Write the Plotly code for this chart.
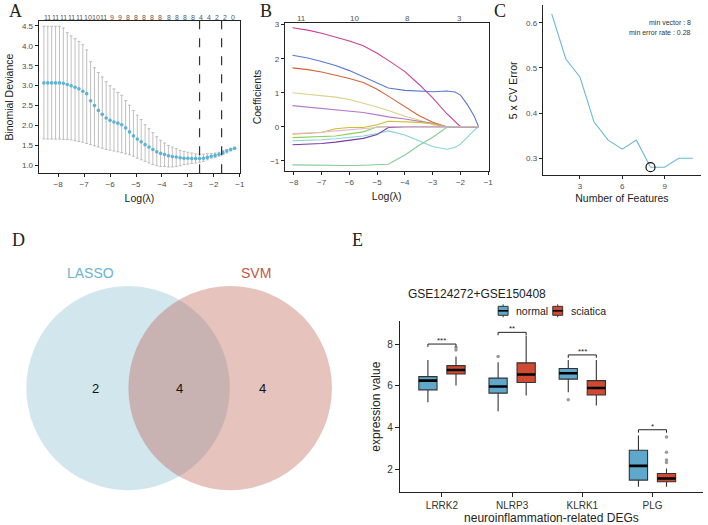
import numpy as np
import plotly.graph_objects as go

W, H = 708, 525

# ---------------- Panel A: LASSO CV curve ----------------
a_loglambda = [-8.55, -8.4, -8.25, -8.1, -7.95, -7.8, -7.65, -7.5, -7.35, -7.2, -7.05,
               -6.9, -6.75, -6.6, -6.45, -6.3, -6.15, -6.0, -5.85, -5.7, -5.55, -5.4,
               -5.25, -5.1, -4.95, -4.8, -4.65, -4.5, -4.35, -4.2, -4.05, -3.9, -3.75,
               -3.6, -3.45, -3.3, -3.15, -3.0, -2.85, -2.7, -2.55, -2.4, -2.25, -2.1,
               -1.95, -1.8, -1.65, -1.5, -1.35, -1.2]
a_mean = [3.07, 3.07, 3.07, 3.07, 3.07, 3.06, 3.03, 3.00, 2.96, 2.92, 2.86,
          2.80, 2.62, 2.50, 2.38, 2.28, 2.19, 2.13, 2.09, 2.06, 2.02, 1.94,
          1.84, 1.74, 1.66, 1.59, 1.52, 1.46, 1.40, 1.34, 1.30, 1.27, 1.24,
          1.22, 1.21, 1.19, 1.18, 1.18, 1.17, 1.17, 1.17, 1.18, 1.20, 1.23,
          1.25, 1.28, 1.32, 1.36, 1.40, 1.43]
a_upper = [4.49, 4.49, 4.49, 4.49, 4.49, 4.45, 4.33, 4.25, 4.18, 4.11, 4.03,
           3.90, 3.60, 3.45, 3.33, 3.22, 3.10, 3.00, 2.92, 2.83, 2.76, 2.63,
           2.51, 2.38, 2.26, 2.15, 2.02, 1.92, 1.82, 1.72, 1.63, 1.56, 1.50,
           1.46, 1.42, 1.38, 1.35, 1.33, 1.31, 1.29, 1.28, 1.28, 1.29, 1.30,
           1.31, 1.33, 1.37, 1.40, 1.43, 1.46]
a_lower = [1.66, 1.66, 1.66, 1.66, 1.66, 1.65, 1.65, 1.64, 1.62, 1.60, 1.58,
           1.55, 1.52, 1.49, 1.46, 1.43, 1.40, 1.38, 1.36, 1.34, 1.32, 1.29,
           1.27, 1.23, 1.18, 1.14, 1.10, 1.06, 1.02, 0.99, 0.97, 0.97, 0.96,
           0.96, 0.97, 0.99, 1.02, 1.03, 1.05, 1.06, 1.08, 1.10, 1.14, 1.18,
           1.20, 1.23, 1.27, 1.31, 1.36, 1.40]
a_nonzero = [11, 11, 11, 11, 11, 10, 10, 11, 9, 9, 8, 8, 8, 8, 8, 8, 8, 8, 8, 4, 4, 2, 2, 0]
a_lambda_marks = [-2.55, -1.7]

# ---------------- Panel B: coefficient paths ----------------
b_loglambda = [-8.05, -7.5, -7.0, -6.5, -6.0, -5.5, -5.0, -4.6, -4.0, -3.5, -3.0,
               -2.5, -2.2, -2.0, -1.75, -1.5, -1.35]
b_magenta = [2.91, 2.84, 2.75, 2.64, 2.52, 2.38, 2.16, 1.95, 1.62, 1.25, 0.85, 0.39, 0.15, 0, 0, 0, 0]
b_blue = [2.10, 2.02, 1.92, 1.80, 1.65, 1.46, 1.27, 1.14, 1.07, 1.04, 1.03, 1.05, 1.02, 0.93, 0.65, 0.30, 0]
b_orange = [1.73, 1.68, 1.61, 1.52, 1.42, 1.30, 1.10, 0.90, 0.58, 0.33, 0.13, 0, 0, 0, 0, 0, 0]
b_khaki = [1.00, 0.96, 0.92, 0.87, 0.80, 0.70, 0.58, 0.48, 0.31, 0.20, 0.06, 0, 0, 0, 0, 0, 0]
b_lilac = [0.62, 0.58, 0.54, 0.50, 0.46, 0.42, 0.35, 0.29, 0.23, 0.17, 0.10, 0, 0, 0, 0, 0, 0]
b_mustard = [-0.22, -0.20, -0.17, -0.06, -0.02, -0.02, 0.06, 0.16, 0.15, 0.13, 0.09, 0, 0, 0, 0, 0, 0]
b_green = [-0.32, -0.31, -0.30, -0.27, -0.21, -0.15, 0, 0, 0, 0, 0, 0, 0, 0, 0, 0, 0]
b_cyan = [-0.41, -0.40, -0.38, -0.35, -0.31, -0.27, -0.20, -0.12, -0.24, -0.41, -0.58, -0.66, -0.61, -0.51, -0.29, -0.10, 0]
b_violet = [-0.53, -0.51, -0.49, -0.45, -0.39, -0.34, -0.23, -0.02, 0, 0, 0, 0, 0, 0, 0, 0, 0]
b_mint = [-1.12, -1.13, -1.14, -1.15, -1.14, -1.13, -1.12, -1.10, -0.83, -0.55, -0.31, -0.02, 0, 0, 0, 0, 0]
b_pink = [-0.20, -0.18, -0.16, -0.12, -0.08, -0.05, -0.02, 0, 0, 0, 0, 0, 0, 0, 0, 0, 0]
b_top_labels = ["11", "10", "8", "3"]
b_top_positions = [-7.72, -5.82, -3.92, -2.02]

# ---------------- Panel C: SVM-RFE ----------------
c_features = [1, 2, 3, 4, 5, 6, 7, 8, 9, 10, 11]
c_error = [0.62, 0.52, 0.48, 0.38, 0.34, 0.32, 0.34, 0.28, 0.28, 0.30, 0.30]
c_best_n = 8
c_best_err = 0.28

# ---------------- Panel D: Venn ----------------
d_sets = ["LASSO", "SVM"]
d_counts = [2, 4, 4]  # LASSO only, both, SVM only

# ---------------- Panel E: boxplots ----------------
e_genes = ["LRRK2", "NLRP3", "KLRK1", "PLG"]
e_groups = ["normal", "sciatica"]
e_normal_low = [5.22, 4.78, 5.70, 1.17]
e_normal_q1 = [5.81, 5.65, 6.32, 1.49]
e_normal_med = [6.25, 5.97, 6.60, 2.17]
e_normal_q3 = [6.44, 6.37, 6.83, 2.92]
e_normal_high = [7.24, 7.13, 7.24, 3.63]
e_sciatica_low = [6.02, 5.54, 5.06, 1.17]
e_sciatica_q1 = [6.57, 6.16, 5.56, 1.41]
e_sciatica_med = [6.76, 6.54, 5.90, 1.57]
e_sciatica_q3 = [6.97, 7.10, 6.25, 1.81]
e_sciatica_high = [7.40, 8.40, 7.24, 2.05]
e_normal_out_gene = ["NLRP3", "KLRK1"]
e_normal_out_val = [7.40, 5.33]
e_sciatica_out_gene = ["LRRK2", "LRRK2", "PLG", "PLG", "PLG", "PLG"]
e_sciatica_out_val = [7.72, 7.84, 3.55, 2.82, 2.45, 2.33]
e_sig_label = ["***", "**", "***", "*"]
e_sig_height = [8.0, 8.56, 7.48, 3.9]

# ---------------- styling ----------------
SANS = "Liberation Sans"
SERIF = "Liberation Serif"
TICK_C = "#4d4d4d"
TXT_C = "#222222"
E_COLORS = ["#5fa8cc", "#cf4a32"]


def dx(p0, p1):
    return [p0 / W, p1 / W]


def dy(top, bottom):
    return [1 - bottom / H, 1 - top / H]


fig = go.Figure()

# ---- A
a_m = np.array(a_mean)
fig.add_trace(go.Scatter(
    x=a_loglambda, y=a_mean, mode="markers", xaxis="x", yaxis="y", showlegend=False,
    marker=dict(color="#5db3d6", size=3.6, line=dict(width=0)),
    error_y=dict(type="data", symmetric=False, array=np.array(a_upper) - a_m,
                 arrayminus=a_m - np.array(a_lower), color="#b0b0b0", thickness=0.8, width=1.5)))

# ---- B
b_series = [b_magenta, b_blue, b_orange, b_khaki, b_lilac, b_mustard, b_green,
            b_cyan, b_violet, b_mint, b_pink]
b_colors = ["#cc3f99", "#5a78d4", "#d0643a", "#dcd08c", "#b57ac9", "#cdbf2a",
            "#8fcf5a", "#86d2d6", "#7a3aa8", "#86cc96", "#e6b8d8"]
for ys, col in zip(b_series, b_colors):
    fig.add_trace(go.Scatter(x=b_loglambda, y=ys, mode="lines", xaxis="x3", yaxis="y3",
                             line=dict(color=col, width=1.1), showlegend=False))

# ---- C
fig.add_trace(go.Scatter(x=c_features, y=c_error, mode="lines", xaxis="x5", yaxis="y5",
                         line=dict(color="#6bb8d8", width=1.1), showlegend=False))
fig.add_trace(go.Scatter(x=[c_best_n], y=[c_best_err], mode="markers", xaxis="x5", yaxis="y5",
                         marker=dict(symbol="circle-open", color="#111111", size=9,
                                     line=dict(width=1.2)), showlegend=False))

# ---- D (axis in pixel units)
fig.add_trace(go.Scatter(x=[None], y=[None], xaxis="x6", yaxis="y6", showlegend=False))
venn_r = 102.5
venn_cy = 387.5
venn_cx = [129.0, 231.8]
venn_fill = ["rgba(126,184,206,0.35)", "rgba(184,82,66,0.35)"]
shapes = []
for cx, fc in zip(venn_cx, venn_fill):
    shapes.append(dict(type="circle", xref="x6", yref="y6", x0=cx - venn_r, x1=cx + venn_r,
                       y0=venn_cy - venn_r, y1=venn_cy + venn_r, fillcolor=fc,
                       line=dict(width=0), layer="above"))
annotations = []
count_x = [venn_cx[0] - 0.32 * venn_r, (venn_cx[0] + venn_cx[1]) / 2, venn_cx[1] + 0.32 * venn_r]
for cxp, cnt in zip(count_x, d_counts):
    annotations.append(dict(x=cxp, y=venn_cy, xref="x6", yref="y6", text=str(cnt),
                            showarrow=False, font=dict(family=SANS, size=13, color="#111111")))
annotations.append(dict(x=venn_cx[0] - 0.37 * venn_r, y=272.5, xref="x6", yref="y6", text=d_sets[0],
                        showarrow=False, font=dict(family=SANS, size=14, color="#6ab3cf")))
annotations.append(dict(x=venn_cx[1] + 0.25 * venn_r, y=272.5, xref="x6", yref="y6", text=d_sets[1],
                        showarrow=False, font=dict(family=SANS, size=14, color="#c0574a")))

# ---- E
pos = np.arange(1, len(e_genes) + 1, dtype=float)
off = 0.2
bw = 0.26
gpos = {g: p for g, p in zip(e_genes, pos)}
for name, sign, low, q1, med, q3, high, fc in [
        (e_groups[0], -1, e_normal_low, e_normal_q1, e_normal_med, e_normal_q3, e_normal_high, E_COLORS[0]),
        (e_groups[1], 1, e_sciatica_low, e_sciatica_q1, e_sciatica_med, e_sciatica_q3, e_sciatica_high, E_COLORS[1])]:
    fig.add_trace(go.Box(x=pos + sign * off, q1=q1, median=med, q3=q3, lowerfence=low, upperfence=high,
                         name=name, width=bw, whiskerwidth=0, fillcolor=fc,
                         line=dict(color="#333333", width=1.1), xaxis="x7", yaxis="y7",
                         showlegend=False, boxpoints=False))
# thick median bars
mx, my = [], []
for sign, med in [(-1, e_normal_med), (1, e_sciatica_med)]:
    for p, m in zip(pos, med):
        mx += [p + sign * off - bw / 2, p + sign * off + bw / 2, None]
        my += [m, m, None]
fig.add_trace(go.Scatter(x=mx, y=my, mode="lines", line=dict(color="#000000", width=2.6),
                         xaxis="x7", yaxis="y7", showlegend=False, hoverinfo="skip"))
# outliers
fig.add_trace(go.Scatter(x=[gpos[g] - off for g in e_normal_out_gene] + [gpos[g] + off for g in e_sciatica_out_gene],
                         y=e_normal_out_val + e_sciatica_out_val, mode="markers",
                         marker=dict(color="#9a9a9a", size=3.5), xaxis="x7", yaxis="y7", showlegend=False))
# significance brackets
bx, by = [], []
for p, h in zip(pos, e_sig_height):
    bx += [p - off, p - off, p + off, p + off, None]
    by += [h - 0.14, h, h, h - 0.14, None]
fig.add_trace(go.Scatter(x=bx, y=by, mode="lines", line=dict(color="#222222", width=1),
                         xaxis="x7", yaxis="y7", showlegend=False, hoverinfo="skip"))
for p, h, s in zip(pos, e_sig_height, e_sig_label):
    annotations.append(dict(x=p, y=h, xref="x7", yref="y7", text=s, showarrow=False, yanchor="bottom",
                            yshift=-3, font=dict(family=SANS, size=8, color="#222222")))

# manual legend for E (box glyphs)
leg_y = 310
for icon_x, text_x, lab, col in [(506.7, 518, e_groups[0], E_COLORS[0]), (561.7, 573, e_groups[1], E_COLORS[1])]:
    shapes.append(dict(type="rect", xref="paper", yref="paper", x0=(icon_x - 5) / W, x1=(icon_x + 5) / W,
                       y0=1 - (leg_y + 4.5) / H, y1=1 - (leg_y - 4.5) / H, fillcolor=col,
                       line=dict(color="#333333", width=1)))
    shapes.append(dict(type="line", xref="paper", yref="paper", x0=(icon_x - 5) / W, x1=(icon_x + 5) / W,
                       y0=1 - leg_y / H, y1=1 - leg_y / H, line=dict(color="#000000", width=1.6)))
    shapes.append(dict(type="line", xref="paper", yref="paper", x0=icon_x / W, x1=icon_x / W,
                       y0=1 - (leg_y + 6.5) / H, y1=1 - (leg_y + 4.5) / H, line=dict(color="#333333", width=1)))
    shapes.append(dict(type="line", xref="paper", yref="paper", x0=icon_x / W, x1=icon_x / W,
                       y0=1 - (leg_y - 4.5) / H, y1=1 - (leg_y - 6.5) / H, line=dict(color="#333333", width=1)))
    annotations.append(dict(x=text_x / W, y=1 - leg_y / H, xref="paper", yref="paper", xanchor="left",
                            text=lab, showarrow=False, font=dict(family=SANS, size=10.5, color="#222222")))

# ---- A shapes / labels
for v in a_lambda_marks:
    shapes.append(dict(type="line", xref="x", yref="y domain", x0=v, x1=v, y0=0, y1=1,
                       line=dict(color="#333333", width=1.2, dash="dash")))
a_top_pos = np.linspace(a_loglambda[0] + 0.12, a_loglambda[-1] - 0.05, len(a_nonzero))
for xp, n in zip(a_top_pos, a_nonzero):
    annotations.append(dict(x=xp, y=1 - 10.5 / H, xref="x", yref="paper", text=str(n), showarrow=False,
                            font=dict(family=SANS, size=7, color="#555555")))
for xp, t in zip(b_top_positions, b_top_labels):
    annotations.append(dict(x=xp, y=1 - 10.5 / H, xref="x3", yref="paper", text=t, showarrow=False,
                            font=dict(family=SANS, size=8, color="#555555")))

# C annotations
annotations.append(dict(x=698 / W, y=1 - 15.5 / H, xref="paper", yref="paper", xanchor="right",
                        text="min vector : %d" % c_best_n, showarrow=False,
                        font=dict(family=SANS, size=7, color="#333333")))
annotations.append(dict(x=698 / W, y=1 - 25.5 / H, xref="paper", yref="paper", xanchor="right",
                        text="min error rate : %.2f" % c_best_err, showarrow=False,
                        font=dict(family=SANS, size=7, color="#333333")))

# E title
annotations.append(dict(x=552 / W, y=1 - 293 / H, xref="paper", yref="paper",
                        text="GSE124272+GSE150408", showarrow=False,
                        font=dict(family=SANS, size=12, color="#222222")))

# panel letters (anchored by their bottom edge)
for letter, lx, lb in [("A", 8, 20), ("B", 268, 20), ("C", 511, 20), ("D", 11, 250), ("E", 360, 250)]:
    annotations.append(dict(x=lx / W, y=1 - lb / H, xref="paper", yref="paper", text=letter,
                            yanchor="bottom", borderpad=0,
                            showarrow=False, font=dict(family=SERIF, size=18, color="#222222")))

tickfont = dict(family=SANS, size=8, color=TICK_C)
titlefont = dict(family=SANS, size=10.5, color=TXT_C)
box_axis = dict(showline=True, linecolor="#222222", linewidth=1.1, mirror=True, ticks="outside",
                ticklen=3, tickcolor="#222222", showgrid=False, zeroline=False, tickfont=tickfont)
classic_axis = dict(showline=True, linecolor="#222222", linewidth=1.1, mirror=False, ticks="outside",
                    ticklen=3, tickcolor="#222222", showgrid=False, zeroline=False, tickfont=tickfont)

fig.update_layout(
    width=W, height=H, margin=dict(l=0, r=0, t=0, b=0),
    paper_bgcolor="white", plot_bgcolor="rgba(0,0,0,0)",
    font=dict(family=SANS),
    shapes=shapes, annotations=annotations, showlegend=False,
    xaxis=dict(domain=dx(39, 242), range=[-8.75, -0.98], anchor="y", tickvals=[-8, -7, -6, -5, -4, -3, -2, -1],
               title=dict(text="Log(λ)", font=titlefont, standoff=6), **box_axis),
    yaxis=dict(domain=dy(19, 172), range=[0.8, 4.625], anchor="x", tickvals=[1.0, 1.5, 2.0, 2.5, 3.0, 3.5, 4.0, 4.5],
               tickformat=".1f", title=dict(text="Binomial Deviance", font=titlefont, standoff=6), **box_axis),
    xaxis3=dict(domain=dx(287, 492), range=[-8.32, -0.99], anchor="y3", tickvals=[-8, -7, -6, -5, -4, -3, -2, -1],
                title=dict(text="Log(λ)", font=titlefont, standoff=6), **box_axis),
    yaxis3=dict(domain=dy(20.7, 170), range=[-1.31, 3.06], anchor="x3", tickvals=[-1, 0, 1, 2, 3],
                title=dict(text="Coefficients", font=titlefont, standoff=6), **box_axis),
    xaxis5=dict(domain=dx(546.7, 706), range=[0.37, 11.58], anchor="y5", tickvals=[3, 6, 9],
                title=dict(text="Number of Features", font=titlefont, standoff=4), **classic_axis),
    yaxis5=dict(domain=dy(3.3, 174), range=[0.262, 0.639], anchor="x5", tickvals=[0.3, 0.4, 0.5, 0.6],
                tickformat=".1f", title=dict(text="5 x CV Error", font=titlefont, standoff=6), **classic_axis),
    xaxis6=dict(domain=dx(0, 360), range=[0, 360], anchor="y6", visible=False, fixedrange=True),
    yaxis6=dict(domain=dy(250, 525), range=[525, 250], anchor="x6", visible=False, fixedrange=True),
    xaxis7=dict(domain=dx(402.7, 708), range=[0.4, 4.72], anchor="y7", tickvals=list(pos), ticktext=e_genes,
                title=dict(text="neuroinflammation-related DEGs", font=dict(family=SANS, size=12, color=TXT_C), standoff=3),
                **{**classic_axis, "tickfont": dict(family=SANS, size=10, color="#333333"), "ticklen": 4}),
    yaxis7=dict(domain=dy(320.7, 491.7), range=[0.93, 9.08], anchor="x7", tickvals=[2, 4, 6, 8],
                title=dict(text="expression value", font=dict(family=SANS, size=12, color=TXT_C), standoff=4),
                **{**classic_axis, "tickfont": dict(family=SANS, size=10, color="#333333"), "ticklen": 4}),
    boxmode="overlay",
)

fig.write_html("out.html")
